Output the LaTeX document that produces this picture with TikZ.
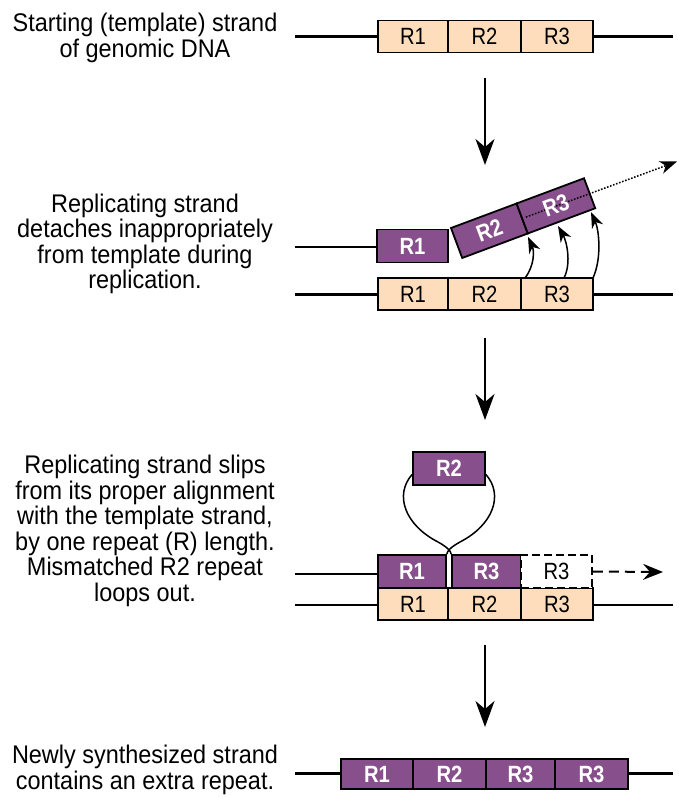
\documentclass[tikz,border=0pt]{standalone}
\usepackage{fontspec}
\setmainfont{Liberation Sans}
\newfontfamily\descfont[FakeStretch=0.92]{Liberation Sans}
\newfontfamily\labfont[FakeStretch=0.86]{Liberation Sans}
\usetikzlibrary{arrows.meta}
\definecolor{peach}{RGB}{253,221,188}
\definecolor{purp}{RGB}{135,80,140}
\begin{document}
\begin{tikzpicture}[x=1pt,y=-1pt,
  tcell/.style={draw=black, fill=peach, line width=1.8pt, minimum height=32pt, inner sep=0pt, font=\labfont\fontsize{23.5}{23.5}\selectfont, text=black},
  pcell/.style={draw=black, fill=purp, line width=1.8pt, minimum height=32pt, inner sep=0pt, font=\labfont\bfseries\fontsize{23.5}{23.5}\selectfont, text=white},
  pbox/.style={draw=black, fill=purp, line width=1.8pt},
  dcell/.style={draw=black, fill=white, dash pattern=on 8pt off 4pt, line width=1.8pt, minimum height=32pt, inner sep=0pt, font=\labfont\fontsize{23.5}{23.5}\selectfont, text=black},
  plabel/.style={inner sep=0pt, font=\labfont\bfseries\fontsize{23.5}{23.5}\selectfont, text=white},
  strand/.style={line width=2.3pt},
  desc/.style={align=center, font=\descfont\fontsize{25.5}{25.5}\selectfont, inner sep=0pt},
  steparrow/.style={line width=1.8pt, -{Stealth[length=26pt,width=19pt,inset=8pt]}},
  curvarrow/.style={line width=1.5pt, -{Stealth[length=16pt,width=12pt,inset=5pt]}},
]
\useasboundingbox (0,0) rectangle (679,797);

% ---------- panel 1 ----------
\node[desc] (d1) at (145,38) {Starting (template) strand\\of genomic DNA};
\coordinate (aL) at (295,36.5);
\coordinate (aR) at (673,36.5);
\draw[strand] (aL) -- (413,36.5);
\draw[strand] (557,36.5) -- (aR);
\node[tcell, minimum width=70pt] (a1) at (413,36.5) {R1};
\node[tcell, minimum width=73pt] (a2) at (484.5,36.5) {R2};
\node[tcell, minimum width=72pt] (a3) at (557,36.5) {R3};

\coordinate (s1a) at (485,78);
\coordinate (s1b) at (485,165);
\draw[steparrow] (s1a) -- (s1b);

% ---------- panel 2 ----------
\node[desc] (d2) at (145,244) {Replicating strand\\detaches inappropriately\\from template during\\replication.};
\coordinate (bL) at (295,294.5);
\coordinate (bR) at (673,294.5);
\draw[strand] (bL) -- (413,294.5);
\draw[strand] (557,294.5) -- (bR);
\node[tcell, minimum width=70pt] (b1) at (413,294) {R1};
\node[tcell, minimum width=73pt] (b2) at (484.5,294) {R2};
\node[tcell, minimum width=72pt] (b3) at (557,294) {R3};

\coordinate (cL) at (295,247);
\draw[strand] (cL) -- (412.5,247);
\node[pcell, minimum width=71pt, minimum height=33pt] (c1) at (412.5,246) {R1};
\coordinate (ctip) at (677,161.5);
\begin{scope}[shift={(456.6,243)}, rotate=20.5]
  \draw[pbox] (0,-16) rectangle (70,16);
  \draw[pbox] (70,-16) rectangle (142,16);
  \coordinate (c3in) at (74,0);
  \draw[dash pattern=on 1.6pt off 1.6pt, line width=1.5pt, -{Stealth[length=17pt,width=13pt,inset=5pt]}] (c3in) -- (ctip);
  \node[plabel, rotate=20.5] (c2t) at (35,0) {R2};
  \node[plabel, rotate=20.5] (c3t) at (106,0) {R3};
\end{scope}

\coordinate (k1s) at (525,278);
\coordinate (k1e) at (528,237);
\coordinate (k2s) at (564,278);
\coordinate (k2e) at (558,226);
\coordinate (k3s) at (593,278);
\coordinate (k3e) at (591,212);
\draw[curvarrow] (k1s) .. controls (535,265) and (534,250) .. (k1e);
\draw[curvarrow] (k2s) .. controls (572,262) and (566,240) .. (k2e);
\draw[curvarrow] (k3s) .. controls (602,258) and (599,230) .. (k3e);

\coordinate (s2a) at (485,338);
\coordinate (s2b) at (485,420);
\draw[steparrow] (s2a) -- (s2b);

% ---------- panel 3 ----------
\node[desc] (d3) at (145,531) {Replicating strand slips\\from its proper alignment\\with the template strand,\\by one repeat (R) length.\\Mismatched R2 repeat\\loops out.};
\coordinate (eL) at (295,605);
\coordinate (eR) at (673,605);
\draw[strand] (eL) -- (413,605);
\draw[strand] (557,605) -- (eR);
\node[tcell, minimum width=70pt] (e1) at (413,604) {R1};
\node[tcell, minimum width=73pt] (e2) at (484.5,604) {R2};
\node[tcell, minimum width=72pt] (e3) at (557,604) {R3};

\coordinate (fL) at (295,574);
\draw[strand] (fL) -- (412,574);
\node[pcell, minimum width=68pt, minimum height=33pt] (f1) at (412,571.5) {R1};
\node[pcell, minimum width=69pt, minimum height=33pt] (f3) at (486.5,571.5) {R3};
\node[dcell, minimum width=71pt, minimum height=33pt] (f4) at (556.5,571.5) {R3};
\coordinate (ftip) at (663,572);
\draw[dash pattern=on 10pt off 6pt, line width=2pt, -{Stealth[length=20pt,width=16pt,inset=7pt]}] (f4.east) -- (ftip);

\node[pcell, minimum width=72pt, minimum height=33pt] (g2) at (449,468.5) {R2};
\draw[line width=1.5pt] ([yshift=-6pt]g2.west) .. controls (394,495) and (405,525) .. (438,542)
   .. controls (447,547) and (451,551) .. (f3.north west);
\draw[line width=1.5pt] ([yshift=-6pt]g2.east) .. controls (504,495) and (493,525) .. (460,542)
   .. controls (451,547) and (447,551) .. (f1.north east);

\coordinate (s3a) at (485,645);
\coordinate (s3b) at (485,727);
\draw[steparrow] (s3a) -- (s3b);

% ---------- panel 4 ----------
\node[desc] (d4) at (145,770) {Newly synthesized strand\\contains an extra repeat.};
\coordinate (hL) at (295,773.5);
\coordinate (hR) at (673,773.5);
\draw[strand] (hL) -- (377,773.5);
\draw[strand] (591.5,773.5) -- (hR);
\node[pcell, minimum width=72pt, minimum height=30pt] (h1) at (377,774) {R1};
\node[pcell, minimum width=73pt, minimum height=30pt] (h2) at (449.5,774) {R2};
\node[pcell, minimum width=69pt, minimum height=30pt] (h3) at (520.5,774) {R3};
\node[pcell, minimum width=73pt, minimum height=30pt] (h4) at (591.5,774) {R3};
\end{tikzpicture}
\end{document}
